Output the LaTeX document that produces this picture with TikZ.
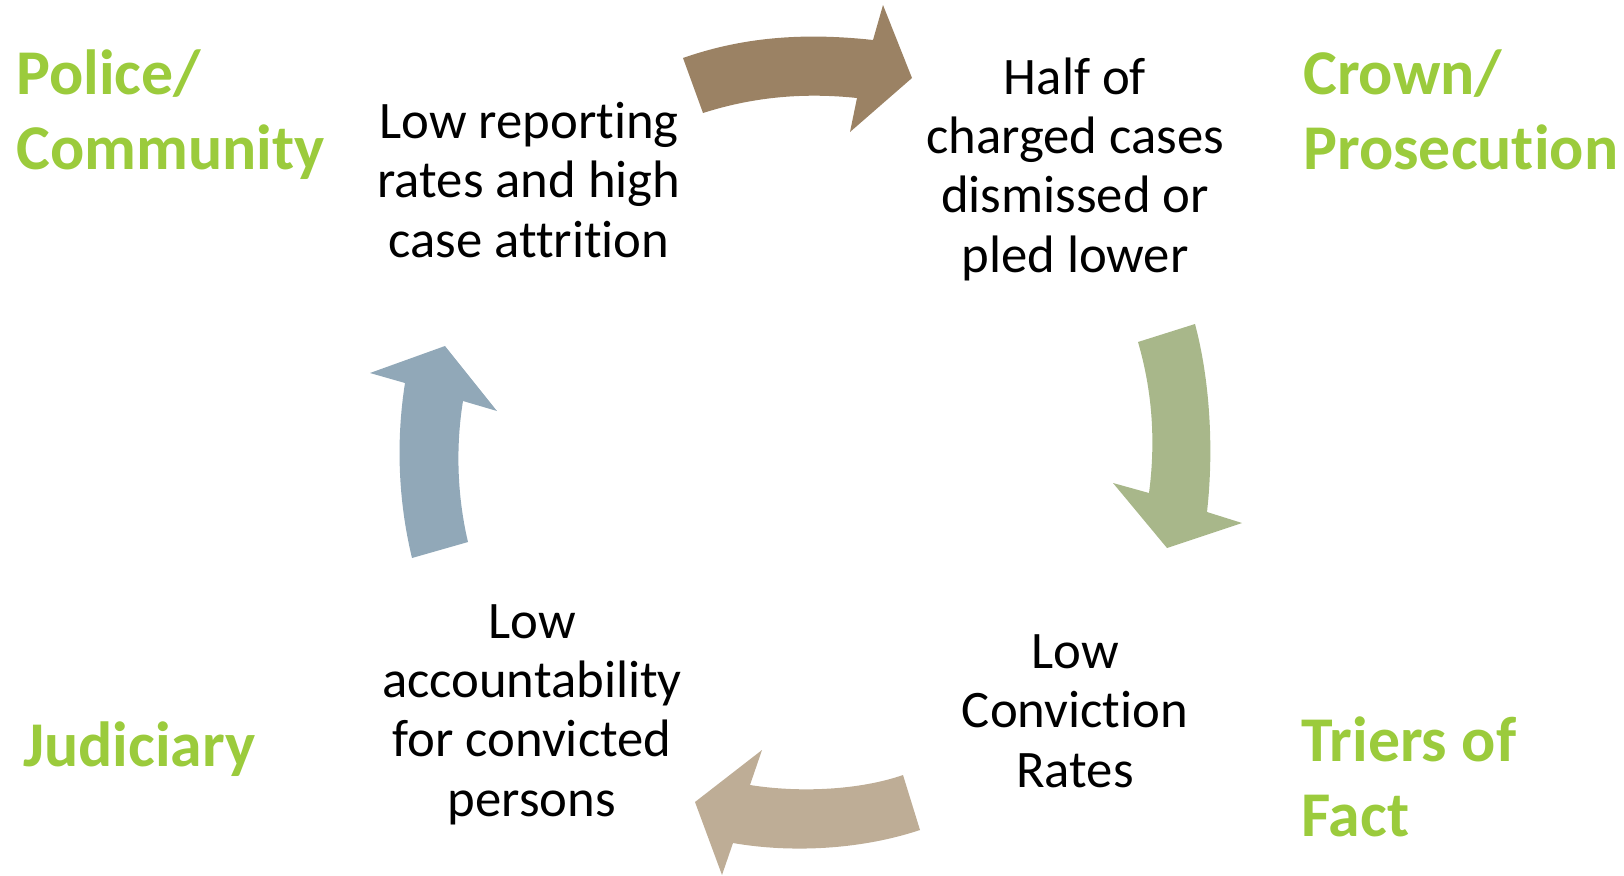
\documentclass[tikz,border=0pt]{standalone}
\usepackage{fontspec}
\setmainfont{Carlito}[Ligatures=NoCommon]
\definecolor{roleGreen}{HTML}{9BCB3C}
\definecolor{arrowBrown}{HTML}{9B8264}
\definecolor{arrowSage}{HTML}{A8B78A}
\definecolor{arrowTan}{HTML}{BEAD96}
\definecolor{arrowSlate}{HTML}{91A8B8}
\begin{document}
\begin{tikzpicture}[x=0.02cm, y=-0.02cm,
    role/.style={text=roleGreen, font=\fontsize{36.3}{42.5}\selectfont\bfseries, align=left, inner sep=0pt},
    stage/.style={text=black, font=\fontsize{30}{33.6}\selectfont, align=center, inner sep=0pt}]
    \useasboundingbox (0,0) rectangle (1624,876);

    % actors
    \node[role, anchor=base west] (police) at (16,169) {Police/\\Community};
    \node[role, anchor=base west] (crown) at (1303,169) {Crown/\\Prosecution};
    \node[role, anchor=base west] (judiciary) at (23,766) {Judiciary};
    \node[role, anchor=base west] (triers) at (1301,836) {Triers of\\Fact};

    % stages of the cycle
    \node[stage, anchor=base] (reporting) at (529,257) {Low reporting\\rates and high\\case attrition};
    \node[stage, anchor=base] (dismissed) at (1075,272) {Half of\\charged cases\\dismissed or\\pled lower};
    \node[stage, anchor=base] (conviction) at (1075,787) {Low\\Conviction\\Rates};
    \node[stage, anchor=base] (accountability) at (532,816) {Low\\accountability\\for convicted\\persons};

    % curved arrows
    \fill[arrowBrown] (683,58) .. controls (740,38) and (800,32) .. (873,40) -- (883,5) -- (912,78)
        -- (850,132) -- (857,98) .. controls (800,92) and (750,98) .. (703,113) -- cycle;
    \fill[arrowSage] (1138,342) -- (1195,324) .. controls (1210,380) and (1214,450) .. (1207,512)
        -- (1242,523) -- (1167,548) -- (1113,483) -- (1149,493) .. controls (1156,440) and (1152,390) .. (1138,342) -- cycle;
    \fill[arrowTan] (903,775) -- (920,830) .. controls (860,850) and (790,853) .. (733,843) -- (722,875)
        -- (695,802) -- (762,750) -- (750,785) .. controls (800,793) and (860,790) .. (903,775) -- cycle;
    \fill[arrowSlate] (412,558) .. controls (398,500) and (396,440) .. (405,383) -- (370,373) -- (445,346)
        -- (497,411) -- (463,401) .. controls (455,450) and (458,500) .. (468,542) -- cycle;
\end{tikzpicture}
\end{document}
